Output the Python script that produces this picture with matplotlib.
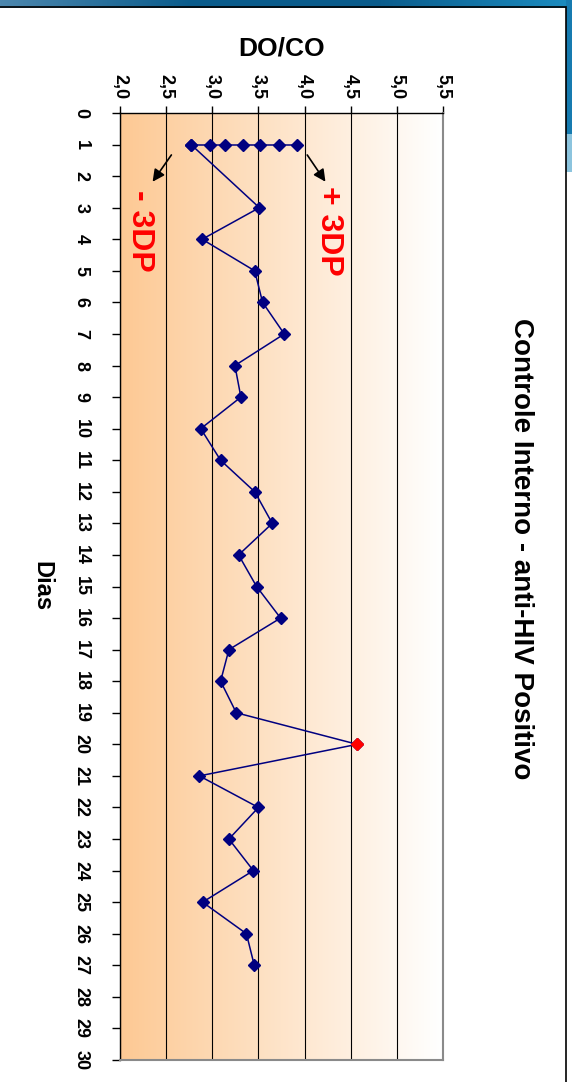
import numpy as np
import matplotlib.pyplot as plt
from matplotlib.colors import LinearSegmentedColormap
from matplotlib.patches import Rectangle

# daily DO/CO readings of the positive internal control
dias = [1, 3, 4, 5, 6, 7, 8, 9, 10, 11, 12, 13, 14, 15, 16, 17, 18, 19, 20,
        21, 22, 23, 24, 25, 26, 27]
do_co = [2.77, 3.51, 2.89, 3.46, 3.545, 3.78, 3.245, 3.31, 2.875, 3.09, 3.46,
         3.65, 3.285, 3.48, 3.74, 3.18, 3.09, 3.26, 4.57, 2.86, 3.50, 3.18,
         3.445, 2.895, 3.37, 3.455]

# mean +/- 1, 2, 3 DP plotted on day 1
limites_dp = [2.77, 2.97, 3.14, 3.33, 3.52, 3.72, 3.92]

dia_ticks = list(range(0, 31))
valor_ticks = [2.0, 2.5, 3.0, 3.5, 4.0, 4.5, 5.0, 5.5]
valor_labels = ['2,0', '2,5', '3,0', '3,5', '4,0', '4,5', '5,0', '5,5']

plt.rcParams['font.family'] = ['Liberation Sans', 'DejaVu Sans']
plt.rcParams['font.weight'] = 'bold'

W, H = 572, 1082
fig = plt.figure(figsize=(W / 100, H / 100), dpi=100)

# slide background: blue band on top and right edge
bg = fig.add_axes([0, 0, 1, 1], zorder=-10)
bg.set_xlim(0, W)
bg.set_ylim(H, 0)
bg.axis('off')
faixa = LinearSegmentedColormap.from_list('faixa', ['#4c87ae', '#0a5c8c', '#0b5d8d', '#1b8cc0'])
bg.imshow(np.linspace(0, 1, 256).reshape(1, -1), extent=(0, W, 8, 0), aspect='auto', cmap=faixa)
bg.add_patch(Rectangle((566, 0), 6, 134, color='#167bb0', lw=0))
bg.add_patch(Rectangle((566, 134), 6, 38, color='#8cc4de', lw=0))
bg.add_patch(Rectangle((-2, 7), 568, H, fill=False, ec='black', lw=1.2))

x0, x1, y0, y1 = 120, 443, 113, 1060
ax = fig.add_axes([x0 / W, 1 - y1 / H, (x1 - x0) / W, (y1 - y0) / H])

# orange-to-white fill of the plot area
laranja = LinearSegmentedColormap.from_list('laranja', ['#fdc994', '#ffffff'])
ax.imshow(np.linspace(0, 1, 256).reshape(1, -1), extent=(2.0, 5.5, 30, 0),
          aspect='auto', cmap=laranja, zorder=0)
ax.set_xlim(2.0, 5.5)
ax.set_ylim(30, 0)

ax.xaxis.grid(True, color='black', linewidth=0.8)
ax.yaxis.grid(False)

ax.plot(limites_dp, [1] * len(limites_dp), color='#000080', lw=1.1, marker='D',
        ms=6, zorder=3)
ax.plot(do_co, dias, color='#000080', lw=1.1, marker='D', ms=6, zorder=3)

# readings above +3DP in red
fora_x = [v for v in do_co if v > max(limites_dp)]
fora_y = [d for d, v in zip(dias, do_co) if v > max(limites_dp)]
ax.plot(fora_x, fora_y, ls='none', marker='D', ms=6, color='red', zorder=4)

ax.annotate('', xy=(2.336, 2.25), xytext=(2.574, 1.257),
            arrowprops=dict(arrowstyle='-|>', color='black', lw=1.2, mutation_scale=18))
ax.annotate('', xy=(4.243, 2.25), xytext=(4.012, 1.257),
            arrowprops=dict(arrowstyle='-|>', color='black', lw=1.2, mutation_scale=18))
ax.text(2.22, 3.74, '- 3DP', rotation=-90, color='red', fontsize=23,
        fontweight='bold', ha='center', va='center')
ax.text(4.27, 3.74, '+ 3DP', rotation=-90, color='red', fontsize=23,
        fontweight='bold', ha='center', va='center')

ax.xaxis.tick_top()
ax.set_xticks(valor_ticks)
ax.set_xticklabels(valor_labels, rotation=-90, fontsize=13, fontweight='bold')
ax.tick_params(axis='x', direction='out', length=5, width=1, pad=5)
ax.set_yticks(dia_ticks)
ax.set_yticklabels([str(d) for d in dia_ticks], rotation=-90, fontsize=13,
                   fontweight='bold', va='center')
ax.tick_params(axis='y', direction='out', length=6, width=1, pad=16)

for lado in ['top', 'left']:
    ax.spines[lado].set_color('black')
    ax.spines[lado].set_linewidth(1)
for lado in ['right', 'bottom']:
    ax.spines[lado].set_color('#8a8a8a')
    ax.spines[lado].set_linewidth(1.5)

fig.text(521 / W, 1 - 549 / H, 'Controle Interno - anti-HIV Positivo',
         rotation=-90, fontsize=20, fontweight='bold', ha='center', va='center')
fig.text(281.5 / W, 1 - 49 / H, 'DO/CO', fontsize=19, fontweight='bold',
         ha='center', va='center')
fig.text(42 / W, 1 - 586 / H, 'Dias', rotation=-90, fontsize=17,
         fontweight='bold', ha='center', va='center')

fig.savefig('out.png', dpi=100)
